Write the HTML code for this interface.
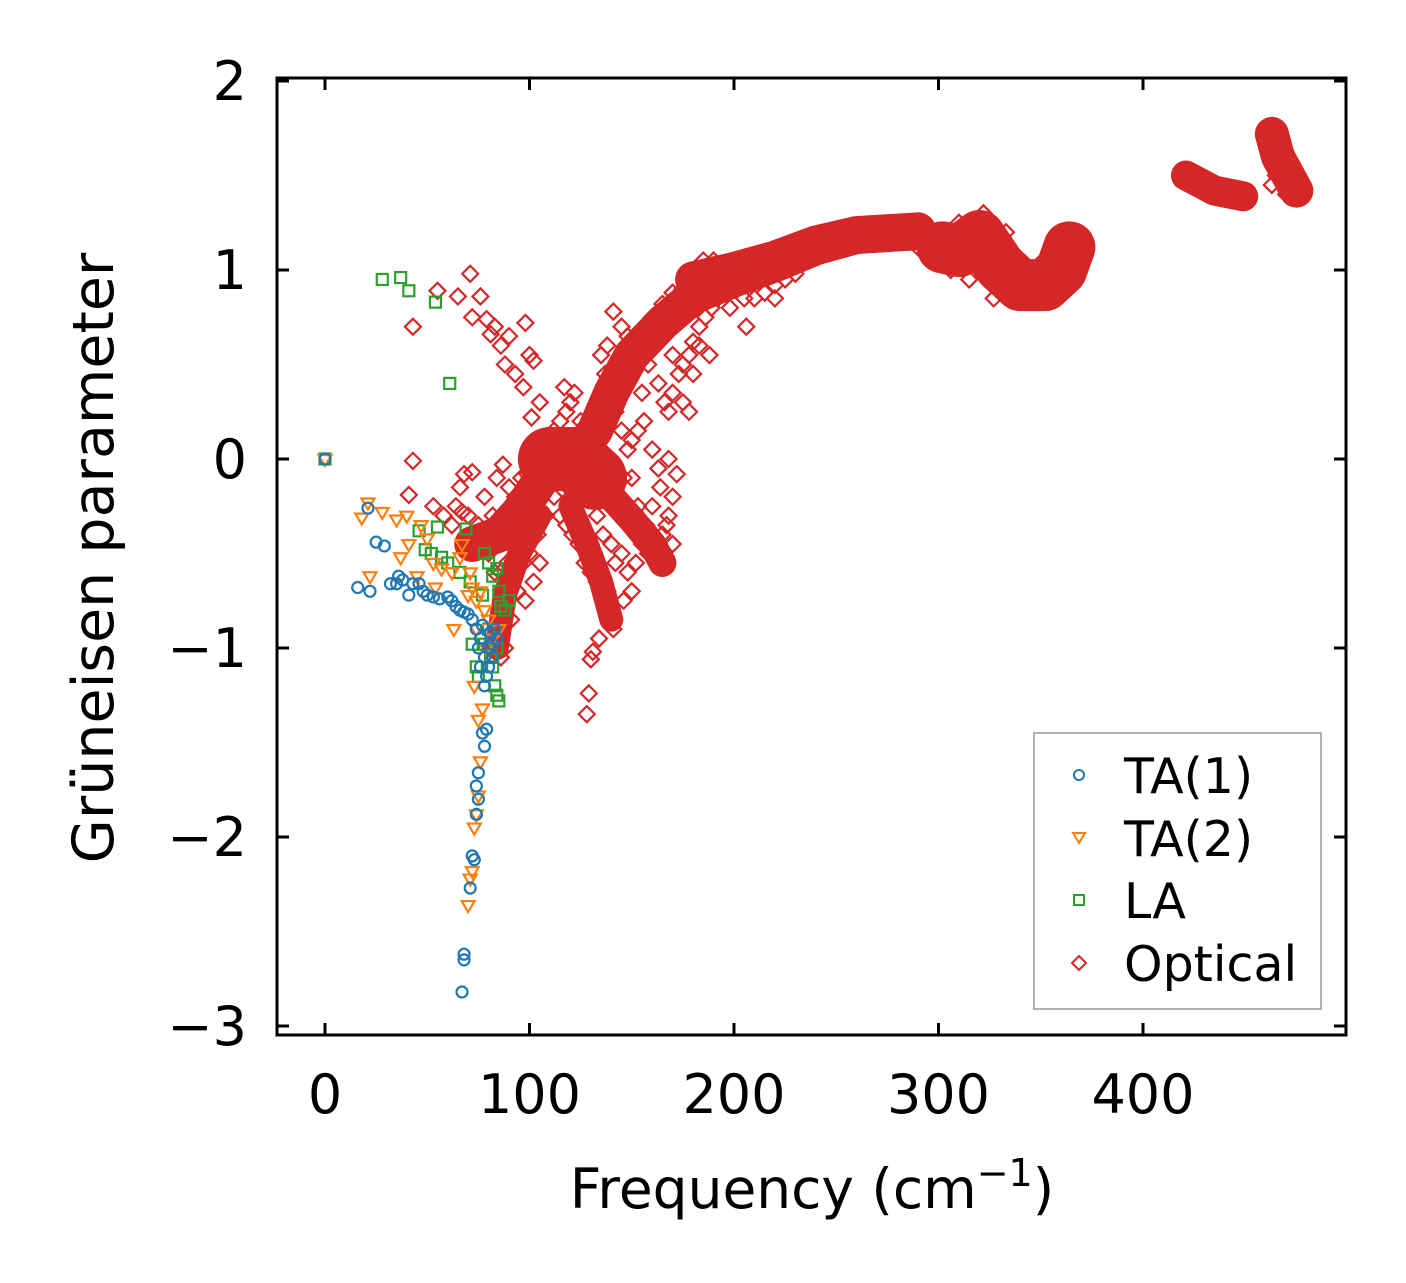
<!DOCTYPE html>
<html><head><meta charset="utf-8"><style>
html,body{margin:0;padding:0;background:#fff;}
svg{display:block;font-family:"DejaVu Sans","Liberation Sans",sans-serif;}
</style></head><body>
<svg id="chart" width="1406" height="1283" viewBox="0 0 1406 1283" xmlns="http://www.w3.org/2000/svg">
<rect x="0" y="0" width="1406" height="1283" fill="#fff"/>
<g id="marks"></g>
<g id="axes"></g>
<text x="812" y="1208" font-size="55" text-anchor="middle">Frequency (cm<tspan dy="-22" font-size="38">−1</tspan><tspan dy="22">)</tspan></text>
<text transform="translate(113,558) rotate(-90)" font-size="57" text-anchor="middle">Grüneisen parameter</text>
<g>
<rect x="1034" y="733" width="287" height="276" fill="#fff" stroke="#999" stroke-width="1.5"/>
<circle cx="1079" cy="775" r="5" fill="none" stroke="#1f77b4" stroke-width="2"/>
<text x="1124" y="793" font-size="49">TA(1)</text>
<path d="M1073,833 L1085,833 L1079,843 Z" fill="none" stroke="#ff7f0e" stroke-width="2"/>
<text x="1124" y="856" font-size="49">TA(2)</text>
<rect x="1074" y="895" width="10" height="10" fill="none" stroke="#2ca02c" stroke-width="2"/>
<text x="1124" y="918" font-size="49">LA</text>
<path d="M1079,956 L1086,963 L1079,970 L1072,963 Z" fill="none" stroke="#d62728" stroke-width="2"/>
<text x="1124" y="981" font-size="49">Optical</text>
</g>
</svg>
<script>
const xTicks=[0,100,200,300,400];
const yTicks=[-3,-2,-1,0,1,2];
const ta1=[[0,0],[16,-0.68],[22,-0.7],[21,-0.26],[25,-0.44],[29,-0.46],[32,-0.66],[35,-0.66],[36,-0.62],[38,-0.64],[41,-0.72],[43,-0.66],[46,-0.66],[48,-0.7],[50,-0.72],[53,-0.73],[56,-0.74],[60,-0.73],[62,-0.75],[64,-0.78],[66,-0.8],[68,-0.81],[70,-0.82],[72,-0.85],[74,-0.9],[75,-1.0],[76,-0.95],[78,-1.05],[80,-1.0],[81,-0.92],[83,-0.9],[78,-1.2],[77,-1.45],[78,-1.52],[75,-1.66],[74,-1.73],[75,-1.8],[74,-1.88],[72,-2.1],[73,-2.12],[71,-2.27],[68,-2.62],[68,-2.65],[67,-2.82],[79,-1.43],[80,-1.1],[82,-0.98],[84,-0.95],[77,-0.88],[76,-1.1],[79,-1.15],[82,-1.05]];
const ta2=[[0,0],[18,-0.31],[21,-0.23],[22,-0.62],[28,-0.28],[35,-0.32],[37,-0.52],[40,-0.3],[41,-0.45],[45,-0.62],[47,-0.35],[50,-0.42],[53,-0.55],[54,-0.68],[57,-0.58],[62,-0.6],[63,-0.9],[66,-0.52],[67,-0.45],[70,-0.72],[72,-0.68],[74,-0.75],[76,-0.7],[78,-0.8],[80,-0.85],[73,-1.2],[75,-1.38],[77,-1.32],[76,-1.6],[74,-1.88],[73,-1.95],[72,-2.18],[71,-2.22],[70,-2.36],[75,-1.78],[79,-1.0],[82,-0.95],[85,-0.9],[74,-0.9],[71,-0.6]];
const la=[[0,0],[28,0.95],[37,0.96],[41,0.89],[54,0.83],[61,0.4],[46,-0.38],[49,-0.48],[52,-0.5],[55,-0.36],[57,-0.52],[60,-0.55],[66,-0.6],[69,-0.37],[71,-0.65],[72,-0.98],[74,-1.1],[75,-1.15],[78,-0.5],[80,-0.55],[82,-0.62],[84,-0.58],[85,-0.7],[86,-0.78],[88,-0.8],[90,-0.75],[82,-1.1],[84,-1.25],[85,-1.28],[83,-1.2],[80,-0.9],[78,-0.98],[77,-0.72],[81,-1.05],[84,-1.0]];
const optical=[[43,-0.01],[41,-0.19],[43,0.7],[55,0.89],[65,0.86],[71,0.98],[76,0.86],[72,0.75],[79,0.74],[83,0.7],[81,0.66],[86,0.6],[90,0.65],[98,0.72],[88,0.5],[93,0.45],[100,0.55],[102,0.52],[97,0.38],[105,0.3],[101,0.22],[53,-0.25],[58,-0.3],[62,-0.35],[66,-0.15],[68,-0.08],[72,-0.07],[67,-0.28],[75,-0.35],[78,-0.2],[82,-0.3],[84,-0.1],[87,-0.03],[90,-0.15],[93,-0.2],[96,-0.1],[99,-0.08],[102,-0.05],[105,0.0],[108,0.05],[110,0.1],[112,0.15],[115,0.2],[118,0.25],[120,0.3],[117,0.38],[122,0.35],[125,0.2],[128,0.1],[130,0.05],[132,0.0],[135,-0.05],[138,-0.1],[110,-0.1],[112,-0.2],[115,-0.3],[118,-0.35],[121,-0.4],[124,-0.45],[127,-0.55],[130,-0.6],[133,-0.65],[136,-0.75],[139,-0.85],[141,-0.9],[131,-1.02],[130,-1.06],[129,-1.24],[128,-1.35],[134,-0.95],[138,-0.7],[142,-0.55],[145,-0.5],[148,-0.6],[150,-0.7],[146,-0.75],[152,-0.55],[155,-0.45],[158,-0.5],[160,-0.45],[163,-0.5],[165,-0.4],[168,-0.3],[170,-0.2],[172,-0.08],[168,0.0],[163,-0.05],[160,0.05],[156,0.2],[153,0.15],[150,0.1],[148,0.05],[145,0.15],[142,0.25],[140,0.35],[137,0.45],[135,0.55],[138,0.6],[141,0.78],[145,0.7],[148,0.65],[152,0.55],[155,0.6],[158,0.5],[160,0.6],[163,0.4],[166,0.3],[168,0.25],[170,0.35],[173,0.45],[175,0.5],[178,0.55],[180,0.62],[183,0.7],[186,0.75],[189,0.8],[192,0.85],[195,0.9],[198,0.95],[201,0.95],[204,1.0],[207,1.0],[210,1.02],[214,1.05],[218,1.05],[222,1.08],[226,1.1],[230,1.1],[234,1.12],[238,1.15],[242,1.15],[246,1.15],[250,1.18],[254,1.17],[258,1.2],[262,1.2],[266,1.22],[270,1.2],[274,1.22],[278,1.2],[282,1.18],[286,1.15],[290,1.12],[293,1.2],[160,0.75],[165,0.82],[170,0.88],[175,0.9],[180,0.92],[185,0.95],[190,1.05],[195,1.0],[200,0.9],[205,0.85],[210,0.85],[215,0.88],[220,0.92],[225,0.95],[230,0.98],[235,1.05],[240,1.1],[177,0.95],[185,1.05],[192,1.0],[198,0.8],[206,0.7],[220,0.85],[183,0.6],[188,0.55],[175,0.3],[178,0.25],[180,0.45],[170,0.55],[165,0.7],[155,0.35],[150,-0.1],[153,-0.25],[157,-0.35],[160,-0.25],[164,-0.15],[167,-0.35],[170,-0.45],[125,-0.1],[120,-0.05],[115,0.05],[128,-0.2],[133,-0.3],[136,-0.4],[140,-0.45],[143,-0.25],[146,-0.1],[108,-0.3],[104,-0.4],[100,-0.5],[97,-0.55],[94,-0.7],[91,-0.85],[88,-1.0],[86,-1.05],[95,-0.35],[92,-0.45],[89,-0.55],[86,-0.6],[83,-0.6],[80,-0.5],[77,-0.45],[73,-0.4],[70,-0.3],[64,-0.25],[105,-0.55],[102,-0.65],[98,-0.75],[118,0.05],[123,0.1],[127,0.0],[131,-0.15],[134,0.15],[120,-0.2],[113,-0.1],[300,1.2],[303,1.1],[306,1.0],[310,1.05],[313,1.15],[316,1.2],[320,1.25],[323,1.2],[326,1.05],[328,0.95],[330,0.9],[327,0.85],[333,1.0],[336,1.1],[339,1.05],[342,0.95],[345,0.9],[348,0.88],[351,0.9],[354,0.95],[357,1.0],[360,1.05],[363,1.15],[365,1.2],[362,0.95],[355,0.87],[345,1.0],[338,0.9],[333,1.2],[322,1.3],[310,1.25],[305,1.15],[315,0.95],[320,1.05],[340,0.85],[350,0.92],[365,0.92],[420,1.5],[425,1.48],[430,1.44],[435,1.42],[440,1.4],[445,1.38],[450,1.4],[460,1.75],[462,1.72],[464,1.65],[466,1.6],[468,1.55],[470,1.52],[472,1.5],[474,1.45],[476,1.4],[465,1.5],[463,1.45],[470,1.4]];
// dense optical bands (centre-line of overlapping marker clusters)
const bandMain=[[72,-0.45],[85,-0.4],[95,-0.28],[105,-0.12],[115,0.0],[125,0.05],[132,0.15],[140,0.35],[150,0.55],[165,0.72],[180,0.86],[200,0.95],[220,1.03],[240,1.12],[260,1.18],[290,1.2]];
const bandUpper=[[180,0.95],[200,1.0],[220,1.06],[240,1.14],[260,1.19],[290,1.21]];
const bandLow=[[84,-1.0],[88,-0.72],[95,-0.5],[105,-0.3]];
const bandDown=[[118,0.0],[130,-0.1],[140,-0.2],[150,-0.32],[160,-0.45],[165,-0.55]];
const bandDrop=[[120,-0.25],[128,-0.45],[135,-0.65],[140,-0.85]];
const bandHigh1=[[302,1.12],[310,1.1],[320,1.18],[330,1.02],[340,0.92],[352,0.92],[360,1.0],[364,1.12]];
const bandHigh2=[[421,1.5],[435,1.42],[449,1.39]];
const bandHigh3=[[463,1.72],[466,1.6],[472,1.48],[475,1.42]];
const bandBlob=[[110,0.0],[122,0.0],[132,-0.1]];

const L=277,R=1346,T=78,B=1035;
const X=v=>325+v*2.045;
const Y=v=>459-v*189;
const NS='http://www.w3.org/2000/svg';
const marks=document.getElementById('marks');
const axes=document.getElementById('axes');
function mk(tag,attrs,parent){const e=document.createElementNS(NS,tag);for(const k in attrs)e.setAttribute(k,attrs[k]);parent.appendChild(e);return e;}

function band(arr,w,name){
  const p=mk('polyline',{points:arr.map(d=>X(d[0])+','+Y(d[1])).join(' '),fill:'none',stroke:'#d62728','stroke-width':w,'stroke-linejoin':'round','stroke-linecap':'round'},marks);
  
  
}
band(bandMain,36,'optical-band-main');
band(bandUpper,36,'optical-band-upper');
band(bandLow,24,'optical-band-low');
band(bandDown,28,'optical-band-down');
band(bandDrop,24,'optical-band-drop');
band(bandHigh1,52,'optical-band-high1');
band(bandHigh2,30,'optical-band-high2');
band(bandHigh3,34,'optical-band-high3');
band(bandBlob,64,'optical-blob');

optical.forEach(d=>{
  const x=X(d[0]),y=Y(d[1]);
  const e=mk('path',{d:`M${x},${y-8} L${x+8},${y} L${x},${y+8} L${x-8},${y} Z`,fill:'none',stroke:'#d62728','stroke-width':2.2},marks);
  
  
});
la.forEach(d=>{
  const x=X(d[0]),y=Y(d[1]);
  const e=mk('rect',{x:x-5.5,y:y-5.5,width:11,height:11,fill:'none',stroke:'#2ca02c','stroke-width':2.2},marks);
  
  
});
ta2.forEach(d=>{
  const x=X(d[0]),y=Y(d[1]);
  const e=mk('path',{d:`M${x-6.5},${y-4} L${x+6.5},${y-4} L${x},${y+7} Z`,fill:'none',stroke:'#ff7f0e','stroke-width':2.2},marks);
  
  
});
ta1.forEach(d=>{
  const e=mk('circle',{cx:X(d[0]),cy:Y(d[1]),r:5.5,fill:'none',stroke:'#1f77b4','stroke-width':2.2},marks);
  
  
});

const frame=mk('rect',{x:L,y:T,width:R-L,height:B-T,fill:'none',stroke:'#000','stroke-width':3},axes);


xTicks.forEach(v=>{
  const x=X(v);
  mk('line',{x1:x,y1:B,x2:x,y2:B-12,stroke:'#000','stroke-width':3},axes);
  mk('line',{x1:x,y1:T,x2:x,y2:T+12,stroke:'#000','stroke-width':3},axes);
  const t=mk('text',{x:x,y:B+78,'font-size':54,'text-anchor':'middle'},axes);
  t.textContent=String(v);
  
  
});
yTicks.forEach(v=>{
  const y=Y(v);
  mk('line',{x1:L,y1:y,x2:L+12,y2:y,stroke:'#000','stroke-width':3},axes);
  mk('line',{x1:R,y1:y,x2:R-12,y2:y,stroke:'#000','stroke-width':3},axes);
  const t=mk('text',{x:L-30,y:y+19,'font-size':54,'text-anchor':'end'},axes);
  t.textContent=v<0?'−'+Math.abs(v):String(v);
  
  
});
</script>
</body></html>
